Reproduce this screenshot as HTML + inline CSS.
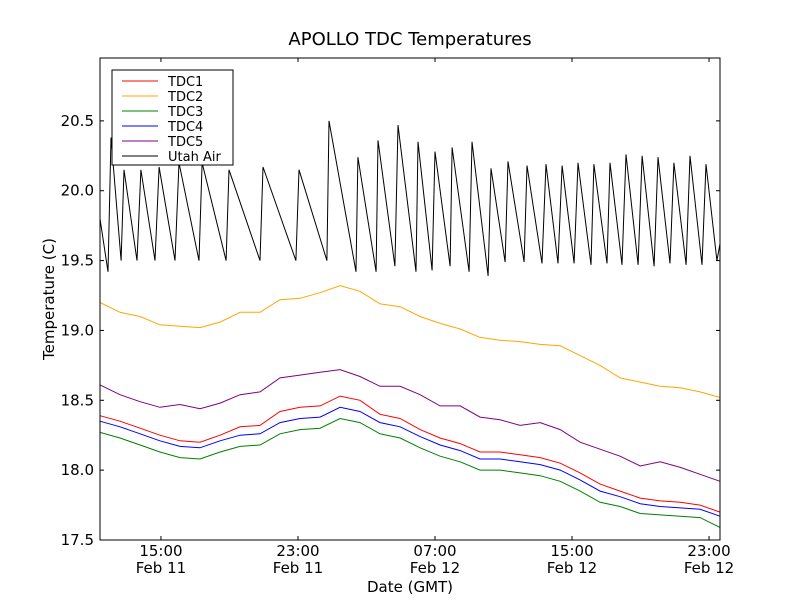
<!DOCTYPE html>
<html><head><meta charset="utf-8"><style>
body{margin:0;background:#fff;}
svg text{font-family:"DejaVu Sans","Liberation Sans",sans-serif;fill:#000;}
</style></head><body>
<svg id="chart" width="800" height="600">
<rect width="800" height="600" fill="#fff"/>
<text x="410" y="45" font-size="18" text-anchor="middle">APOLLO TDC Temperatures</text>
<g id="plot"></g>
<g id="axes"></g>
<text x="410" y="592" font-size="15" text-anchor="middle">Date (GMT)</text>
<text transform="translate(54,299) rotate(-90)" font-size="15" text-anchor="middle">Temperature (C)</text>
<g id="legend"></g>
</svg>
<script>
const gridTimes=[11.44,12.61,13.78,14.94,16.11,17.28,18.45,19.62,20.78,21.95,23.12,24.29,25.46,26.62,27.79,28.96,30.13,31.30,32.47,33.63,34.80,35.97,37.14,38.31,39.47,40.64,41.81,42.98,44.15,45.32,46.48,47.64];
const tdc1=[18.39,18.35,18.30,18.25,18.21,18.20,18.25,18.31,18.32,18.42,18.45,18.46,18.53,18.50,18.40,18.37,18.29,18.23,18.19,18.13,18.13,18.11,18.09,18.05,17.98,17.90,17.85,17.80,17.78,17.77,17.75,17.70];
const tdc2=[19.20,19.13,19.10,19.04,19.03,19.02,19.06,19.13,19.13,19.22,19.23,19.27,19.32,19.28,19.19,19.17,19.10,19.05,19.01,18.95,18.93,18.92,18.90,18.89,18.82,18.75,18.66,18.63,18.60,18.59,18.56,18.52];
const tdc3=[18.27,18.23,18.18,18.13,18.09,18.08,18.13,18.17,18.18,18.26,18.29,18.30,18.37,18.34,18.26,18.23,18.16,18.10,18.06,18.00,18.00,17.98,17.96,17.92,17.85,17.77,17.74,17.69,17.68,17.67,17.66,17.59];
const tdc4=[18.35,18.31,18.26,18.21,18.17,18.16,18.21,18.25,18.26,18.34,18.37,18.38,18.45,18.42,18.34,18.31,18.24,18.18,18.14,18.08,18.08,18.06,18.04,18.00,17.93,17.85,17.81,17.76,17.74,17.73,17.72,17.67];
const tdc5=[18.61,18.54,18.49,18.45,18.47,18.44,18.48,18.54,18.56,18.66,18.68,18.70,18.72,18.67,18.60,18.60,18.54,18.46,18.46,18.38,18.36,18.32,18.34,18.29,18.20,18.15,18.10,18.03,18.06,18.02,17.97,17.92];
const airTimes=[11.44,11.91,12.08,12.67,12.84,13.60,13.83,14.65,14.89,15.82,16.05,17.22,17.40,18.80,18.97,20.78,20.96,22.88,23.06,24.69,24.81,26.39,26.50,27.56,27.67,28.66,28.84,29.89,30.01,30.83,31.00,31.88,32.00,32.99,33.16,34.10,34.27,35.09,35.26,36.20,36.37,37.25,37.48,38.18,38.42,39.12,39.35,40.11,40.28,41.04,41.22,41.92,42.15,42.86,43.09,43.79,44.02,44.72,44.95,45.66,45.89,46.59,46.82,47.46,47.64];
const airVals=[19.80,19.42,20.38,19.50,20.15,19.50,20.15,19.50,20.17,19.50,20.20,19.50,20.20,19.50,20.15,19.50,20.17,19.50,20.15,19.50,20.50,19.42,20.24,19.42,20.36,19.46,20.47,19.42,20.35,19.43,20.28,19.46,20.31,19.42,20.35,19.39,20.16,19.49,20.21,19.49,20.18,19.48,20.19,19.48,20.18,19.48,20.20,19.47,20.19,19.48,20.20,19.47,20.26,19.47,20.25,19.46,20.24,19.48,20.20,19.47,20.25,19.47,20.19,19.50,19.62];
const yTicks=[17.5,18.0,18.5,19.0,19.5,20.0,20.5];
const xTickTimes=[15,23,31,39,47];
const xTickTop=["15:00","23:00","07:00","15:00","23:00"];
const xTickBot=["Feb 11","Feb 11","Feb 12","Feb 12","Feb 12"];
const seriesNames=["TDC1","TDC2","TDC3","TDC4","TDC5","Utah Air"];
const colors=["#ff0000","#ffa500","#008000","#0000ff","#800080","#000000"];

const L=100,R=720,T=58,B=540,t0=11.44,t1=47.64,v0=17.5,v1=20.95;
function X(t){return L+(t-t0)/(t1-t0)*(R-L);}
function Y(v){return B-(v-v0)/(v1-v0)*(B-T);}
const NS="http://www.w3.org/2000/svg";
function mk(tag,attrs,parent){const e=document.createElementNS(NS,tag);for(const k in attrs)e.setAttribute(k,attrs[k]);parent.appendChild(e);return e;}
const plot=document.getElementById('plot'),axes=document.getElementById('axes'),leg=document.getElementById('legend');
function line(ts,vs,col,name){
  const d=ts.map((t,i)=>(i?'L':'M')+X(t).toFixed(1)+','+Y(vs[i]).toFixed(1)).join('');
  const p=mk('path',{d:d,fill:'none',stroke:col,'stroke-width':1},plot);
  
  
}
line(gridTimes,tdc2,colors[1],'tdc2-line');
line(gridTimes,tdc5,colors[4],'tdc5-line');
line(gridTimes,tdc1,colors[0],'tdc1-line');
line(gridTimes,tdc4,colors[3],'tdc4-line');
line(gridTimes,tdc3,colors[2],'tdc3-line');
line(airTimes,airVals,colors[5],'utah-air-line');
const frame=mk('rect',{x:L,y:T,width:R-L,height:B-T,fill:'none',stroke:'#000','stroke-width':1},axes);


yTicks.forEach(v=>{
  const y=Y(v);
  mk('line',{x1:L,x2:L+4,y1:y,y2:y,stroke:'#000'},axes);
  mk('line',{x1:R-4,x2:R,y1:y,y2:y,stroke:'#000'},axes);
  const tx=mk('text',{x:L-6,y:y+5,'font-size':15,'text-anchor':'end'},axes);
  tx.textContent=v.toFixed(1);
  
  
});
xTickTimes.forEach((t,i)=>{
  const x=X(t);
  mk('line',{x1:x,x2:x,y1:B,y2:B-4,stroke:'#000'},axes);
  mk('line',{x1:x,x2:x,y1:T,y2:T+4,stroke:'#000'},axes);
  const a=mk('text',{x:x,y:556,'font-size':15,'text-anchor':'middle'},axes);
  a.textContent=xTickTop[i];
  
  
  const b=mk('text',{x:x,y:573,'font-size':15,'text-anchor':'middle'},axes);
  b.textContent=xTickBot[i];
  
  
});
mk('rect',{x:112,y:70,width:121,height:95,fill:'#fff',stroke:'#000','stroke-width':1},leg);
seriesNames.forEach((n,i)=>{
  const y=81+i*15;
  const g=mk('g',{},leg);
  
  
  mk('line',{x1:122,x2:158,y1:y,y2:y,stroke:colors[i],'stroke-width':1},g);
  const tx=mk('text',{x:168,y:y+5,'font-size':13},g);
  tx.textContent=n;
});
</script>
</body></html>
